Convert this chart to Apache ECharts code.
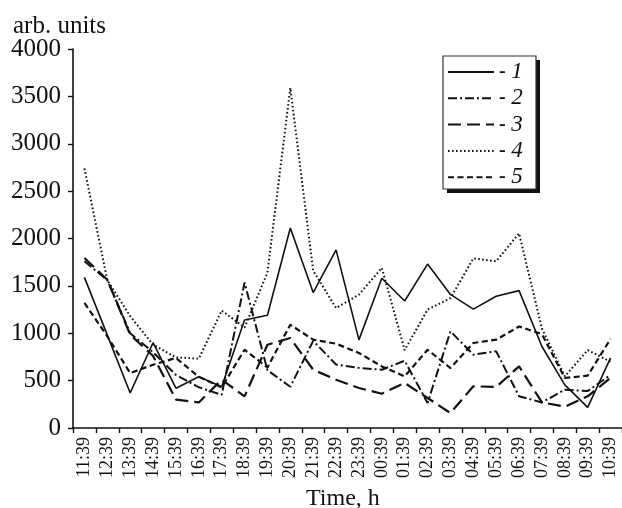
<!DOCTYPE html>
<html>
<head>
<meta charset="utf-8">
<script src="https://cdn.jsdelivr.net/npm/echarts@6/dist/echarts.min.js"></script>
<style>
  html, body { margin: 0; padding: 0; background: #fff; }
  #chart { width: 622px; height: 508px; }
</style>
</head>
<body>
<div id="chart"></div>
<script>
// Hourly readings, 11:39 through 10:39 of the next day
const hours = ['11:39', '12:39', '13:39', '14:39', '15:39', '16:39', '17:39', '18:39',
  '19:39', '20:39', '21:39', '22:39', '23:39', '00:39', '01:39', '02:39', '03:39',
  '04:39', '05:39', '06:39', '07:39', '08:39', '09:39', '10:39'];

const series1 = [1590, 980, 370, 900, 420, 540, 435, 1140, 1190, 2110, 1430, 1880,
  930, 1580, 1340, 1730, 1410, 1255, 1390, 1450, 860, 455, 218, 740];
const series2 = [1760, 1560, 1000, 800, 560, 430, 350, 1535, 610, 435, 920, 670,
  635, 615, 710, 264, 1020, 774, 809, 335, 270, 404, 390, 560];
const series3 = [1794, 1565, 985, 760, 300, 270, 510, 334, 879, 950, 615, 510,
  422, 362, 475, 317, 158, 440, 433, 650, 271, 225, 334, 530];
const series4 = [2740, 1560, 1180, 880, 745, 732, 1240, 1060, 1640, 3590, 1660, 1266,
  1407, 1690, 822, 1250, 1370, 1790, 1760, 2055, 1050, 545, 822, 700];
const series5 = [1320, 967, 580, 668, 739, 540, 430, 826, 640, 1090, 932, 890,
  792, 650, 545, 826, 633, 897, 932, 1072, 990, 528, 552, 940];

const yTicks = { min: 0, max: 4000, step: 500 };

const FONT = '"Liberation Serif", "Times New Roman", serif';
const INK = '#111';

// dash patterns for the five curves
const styles = [
  { width: 1.6, type: 'solid' },
  { width: 2, type: [9, 3, 2, 3] },
  { width: 2.2, type: [13, 6] },
  { width: 2, type: [1.6, 2.4] },
  { width: 2.2, type: [6, 3.5] }
];

const names = ['1', '2', '3', '4', '5'];
const values = [series1, series2, series3, series4, series5];

const chart = echarts.init(document.getElementById('chart'), null, { renderer: 'canvas' });

chart.setOption({
  animation: false,
  backgroundColor: '#fff',
  title: [
    {
      text: 'arb. units', left: 8, top: 9,
      textStyle: { fontFamily: FONT, fontSize: 25, fontWeight: 'normal', color: INK }
    },
    {
      text: 'Time, h', left: 301, top: 482,
      textStyle: { fontFamily: FONT, fontSize: 24, fontWeight: 'normal', color: INK }
    }
  ],
  // legend frame with a solid offset shadow
  graphic: [
    {
      type: 'rect', z: 3, silent: true,
      shape: { x: 447, y: 60, width: 93, height: 133 },
      style: { fill: '#111' }
    },
    {
      type: 'rect', z: 3, silent: true,
      shape: { x: 443, y: 56, width: 93, height: 133 },
      style: { fill: '#fff', stroke: '#333', lineWidth: 1.2 }
    }
  ],
  legend: {
    orient: 'vertical',
    left: 443, top: 56,
    z: 4,
    padding: [4, 12, 1, 4],
    itemWidth: 46, itemHeight: 14, itemGap: 2.3,
    itemStyle: { opacity: 0 },
    formatter: function (n) { return '{d|-} {n|' + n + '}'; },
    textStyle: {
      color: INK,
      fontFamily: FONT,
      fontSize: 22,
      lineHeight: 24,
      rich: {
        d: { fontFamily: FONT, fontSize: 20, color: INK, fontWeight: 'bold', lineHeight: 24 },
        n: { fontFamily: FONT, fontSize: 23, fontStyle: 'italic', color: INK, lineHeight: 24 }
      }
    },
    data: names
  },
  grid: { left: 73, right: -8, top: 49, bottom: 80, containLabel: false },
  xAxis: {
    type: 'category',
    data: hours,
    boundaryGap: true,
    axisLine: { lineStyle: { color: INK, width: 1.6 } },
    axisTick: { show: true, inside: false, length: 5, interval: 0, lineStyle: { color: INK, width: 1.4 } },
    axisLabel: {
      interval: 0, rotate: 90, margin: 9,
      fontFamily: FONT, fontSize: 18, color: INK
    },
    splitLine: { show: false }
  },
  yAxis: {
    type: 'value',
    min: yTicks.min, max: yTicks.max, interval: yTicks.step,
    axisLine: { show: true, lineStyle: { color: INK, width: 1.6 } },
    axisTick: { show: true, inside: false, length: 5, lineStyle: { color: INK, width: 1.4 } },
    axisLabel: {
      margin: 12, fontFamily: FONT, fontSize: 25, color: INK,
      formatter: function (v) { return String(v); }
    },
    splitLine: { show: false }
  },
  series: values.map(function (v, i) {
    return {
      name: names[i],
      type: 'line',
      data: v,
      symbol: 'none',
      smooth: false,
      lineStyle: { color: INK, width: styles[i].width, type: styles[i].type },
      itemStyle: { color: INK }
    };
  })
});
</script>
</body>
</html>
